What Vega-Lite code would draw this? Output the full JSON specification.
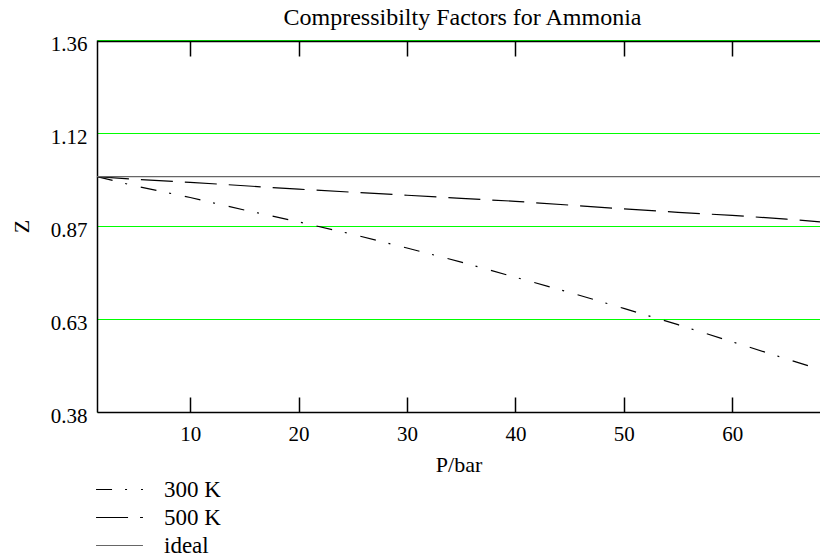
{
  "$schema": "https://vega.github.io/schema/vega-lite/v6.json",
  "width": 723,
  "height": 372,
  "autosize": "none",
  "padding": {"left": 97, "top": 40, "right": 0, "bottom": 145},
  "background": "white",
  "title": {"text": "Compressibilty Factors for Ammonia", "fontSize": 24, "fontWeight": "normal", "color": "black", "anchor": "middle", "offset": 3, "dx": 4},
  "config": {
    "font": "Times New Roman",
    "view": {"stroke": null},
    "axis": {"labelFont": "Times New Roman", "titleFont": "Times New Roman", "labelColor": "black", "titleColor": "black", "titleFontWeight": "normal", "domainColor": "black", "domainWidth": 1.5, "tickColor": "black", "tickWidth": 1.5, "labelFlush": false},
    "axisY": {"gridColor": "#00ff00", "gridOpacity": 1, "gridWidth": 1},
    "legend": {"labelFont": "Times New Roman", "titleFont": "Times New Roman"}
  },
  "data": {"values": [
    {"P": 1.4, "Z": 1.0, "series": "300 K"},
    {"P": 5, "Z": 0.975, "series": "300 K"},
    {"P": 10, "Z": 0.945, "series": "300 K"},
    {"P": 15, "Z": 0.912, "series": "300 K"},
    {"P": 20, "Z": 0.881, "series": "300 K"},
    {"P": 25, "Z": 0.848, "series": "300 K"},
    {"P": 30, "Z": 0.812, "series": "300 K"},
    {"P": 35, "Z": 0.775, "series": "300 K"},
    {"P": 40, "Z": 0.735, "series": "300 K"},
    {"P": 45, "Z": 0.695, "series": "300 K"},
    {"P": 50, "Z": 0.653, "series": "300 K"},
    {"P": 55, "Z": 0.61, "series": "300 K"},
    {"P": 60, "Z": 0.565, "series": "300 K"},
    {"P": 65, "Z": 0.52, "series": "300 K"},
    {"P": 68.1, "Z": 0.492, "series": "300 K"},
    {"P": 1.4, "Z": 1.0, "series": "500 K"},
    {"P": 5, "Z": 0.993, "series": "500 K"},
    {"P": 10, "Z": 0.985, "series": "500 K"},
    {"P": 15, "Z": 0.976, "series": "500 K"},
    {"P": 20, "Z": 0.967, "series": "500 K"},
    {"P": 25, "Z": 0.959, "series": "500 K"},
    {"P": 30, "Z": 0.951, "series": "500 K"},
    {"P": 35, "Z": 0.943, "series": "500 K"},
    {"P": 40, "Z": 0.935, "series": "500 K"},
    {"P": 45, "Z": 0.925, "series": "500 K"},
    {"P": 50, "Z": 0.915, "series": "500 K"},
    {"P": 55, "Z": 0.906, "series": "500 K"},
    {"P": 60, "Z": 0.898, "series": "500 K"},
    {"P": 65, "Z": 0.888, "series": "500 K"},
    {"P": 68.1, "Z": 0.881, "series": "500 K"},
    {"P": 1.4, "Z": 1.0, "series": "ideal"},
    {"P": 68.1, "Z": 1.0, "series": "ideal"}
  ]},
  "layer": [
    {
      "mark": {"type": "line", "strokeWidth": 1.2},
      "encoding": {
        "x": {"field": "P", "type": "quantitative",
          "scale": {"domain": [1.4, 68.1], "nice": false, "zero": false},
          "axis": {"orient": "bottom", "values": [10, 20, 30, 40, 50, 60], "grid": false, "tickSize": -15, "labelPadding": 26, "labelFontSize": 21, "title": "P/bar", "titleFontSize": 22, "titleY": 52, "titleBaseline": "middle"}},
        "y": {"field": "Z", "type": "quantitative",
          "scale": {"domain": [0.38, 1.36], "nice": false, "zero": false},
          "axis": {"values": [0.38, 0.625, 0.87, 1.115, 1.36], "labelExpr": "format(datum.value + 0.0001, '.2f')", "ticks": false, "labelPadding": 10, "labelFontSize": 21, "labelOffset": 4, "grid": true, "title": "Z", "titleFontSize": 22, "titleX": -76, "titleY": 186, "titleBaseline": "middle"}},
        "strokeDash": {"field": "series", "type": "nominal",
          "scale": {"domain": ["300 K", "500 K", "ideal"], "range": [[16, 13, 2, 14], [32, 12], [1, 0]]},
          "legend": {"orient": "none", "legendX": 11, "legendY": 438, "title": null, "symbolType": "M-5,0H5", "symbolSize": 88, "symbolStrokeWidth": 1.2, "labelFontSize": 23, "labelColor": "black", "labelOffset": 33, "padding": 0, "rowPadding": 4}},
        "color": {"field": "series", "type": "nominal",
          "scale": {"domain": ["300 K", "500 K", "ideal"], "range": ["#000000", "#000000", "#666666"]},
          "legend": {"orient": "none", "legendX": 11, "legendY": 438, "title": null, "symbolType": "M-5,0H5", "symbolSize": 88, "symbolStrokeWidth": 1.2, "labelFontSize": 23, "labelColor": "black", "labelOffset": 33, "padding": 0, "rowPadding": 4}}
      }
    },
    {
      "mark": {"type": "point", "opacity": 0},
      "encoding": {
        "x": {"field": "P", "type": "quantitative",
          "axis": {"orient": "top", "offset": -1, "values": [10, 20, 30, 40, 50, 60], "labels": false, "grid": false, "tickSize": -15, "title": null}}
      }
    }
  ],
  "resolve": {"axis": {"x": "independent"}}
}
